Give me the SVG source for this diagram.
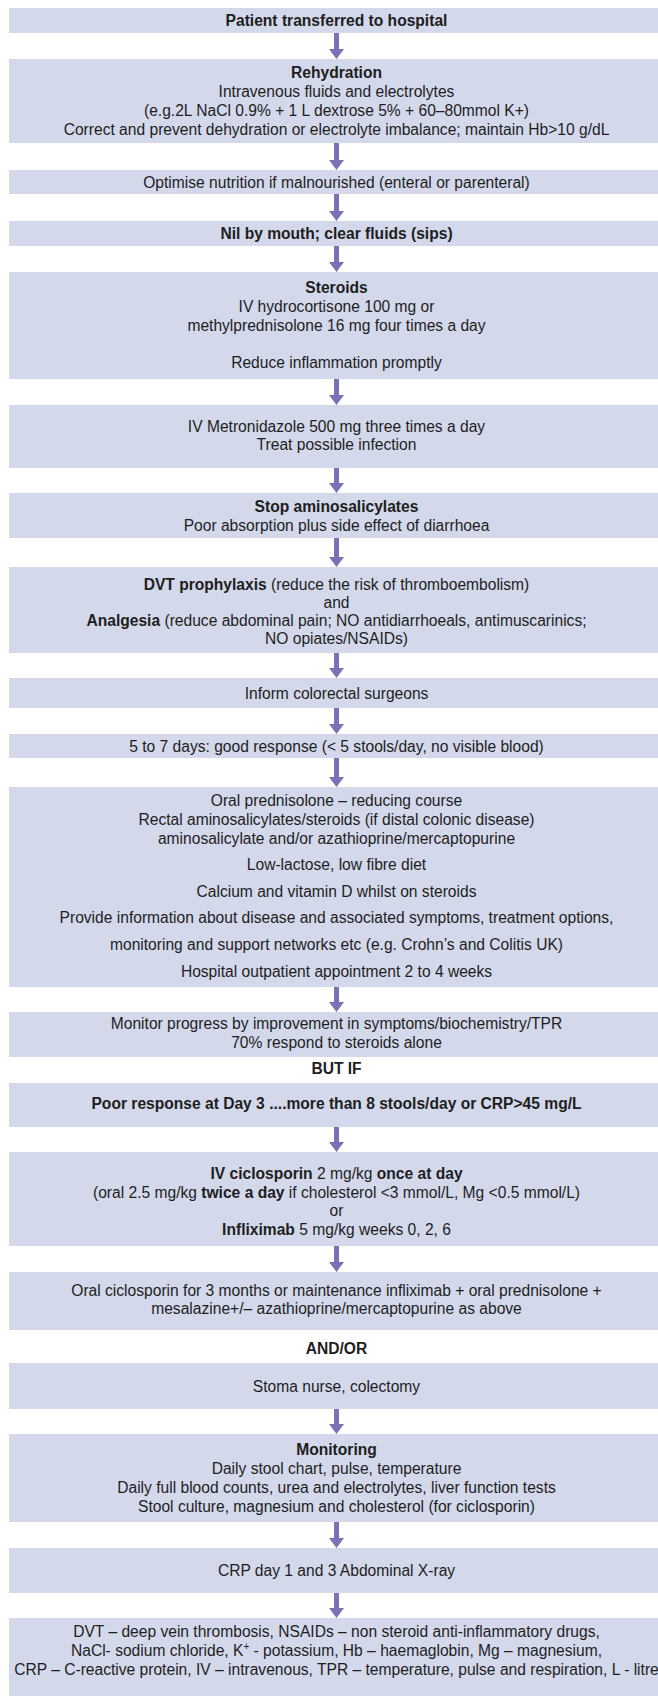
<svg xmlns="http://www.w3.org/2000/svg" width="658" height="1696" viewBox="0 0 658 1696">
<style>
.box{fill:#D3D8EB}
.t{font-family:"Liberation Sans",Arial,sans-serif;font-size:15.6px;text-anchor:middle;fill:#1e1e1e}
.b{font-weight:bold}
.arr{stroke:#7773B4;stroke-width:5;fill:none}
</style>
<defs>
<marker id="ah" markerUnits="userSpaceOnUse" markerWidth="10" markerHeight="15" viewBox="0 0 10 15" refX="0" refY="7.5" orient="auto">
<path d="M0,0 L10,7.5 L0,15 z" fill="#7773B4"/>
</marker>
</defs>
<rect width="658" height="1696" fill="#ffffff"/>
<g id="connectors">
<line class="arr" x1="336.5" y1="32" x2="336.5" y2="49" marker-end="url(#ah)"/>
<line class="arr" x1="336.5" y1="142" x2="336.5" y2="160" marker-end="url(#ah)"/>
<line class="arr" x1="336.5" y1="193" x2="336.5" y2="211" marker-end="url(#ah)"/>
<line class="arr" x1="336.5" y1="245" x2="336.5" y2="262" marker-end="url(#ah)"/>
<line class="arr" x1="336.5" y1="378" x2="336.5" y2="395" marker-end="url(#ah)"/>
<line class="arr" x1="336.5" y1="467" x2="336.5" y2="483" marker-end="url(#ah)"/>
<line class="arr" x1="336.5" y1="537" x2="336.5" y2="557" marker-end="url(#ah)"/>
<line class="arr" x1="336.5" y1="652" x2="336.5" y2="668" marker-end="url(#ah)"/>
<line class="arr" x1="336.5" y1="707" x2="336.5" y2="724" marker-end="url(#ah)"/>
<line class="arr" x1="336.5" y1="757" x2="336.5" y2="777" marker-end="url(#ah)"/>
<line class="arr" x1="336.5" y1="986" x2="336.5" y2="1002" marker-end="url(#ah)"/>
<line class="arr" x1="336.5" y1="1126" x2="336.5" y2="1142" marker-end="url(#ah)"/>
<line class="arr" x1="336.5" y1="1245" x2="336.5" y2="1262" marker-end="url(#ah)"/>
<line class="arr" x1="336.5" y1="1408" x2="336.5" y2="1424" marker-end="url(#ah)"/>
<line class="arr" x1="336.5" y1="1521" x2="336.5" y2="1538" marker-end="url(#ah)"/>
<line class="arr" x1="336.5" y1="1592" x2="336.5" y2="1608" marker-end="url(#ah)"/>
</g>
<g id="n1"><rect class="box" x="9" y="8" width="649" height="25"/>
<text class="t b" x="336.5" y="26">Patient transferred to hospital</text></g>
<g id="n2"><rect class="box" x="9" y="59" width="649" height="84"/>
<text class="t b" x="336.5" y="78">Rehydration</text>
<text class="t" x="336.5" y="97">Intravenous fluids and electrolytes</text>
<text class="t" x="336.5" y="116">(e.g.2L NaCl 0.9% + 1 L dextrose 5% + 60–80mmol K+)</text>
<text class="t" x="336.5" y="135">Correct and prevent dehydration or electrolyte imbalance; maintain Hb&gt;10 g/dL</text></g>
<g id="n3"><rect class="box" x="9" y="170" width="649" height="24"/>
<text class="t" x="336.5" y="187.5">Optimise nutrition if malnourished (enteral or parenteral)</text></g>
<g id="n4"><rect class="box" x="9" y="221" width="649" height="25"/>
<text class="t b" x="336.5" y="239">Nil by mouth; clear fluids (sips)</text></g>
<g id="n5"><rect class="box" x="9" y="272" width="649" height="107"/>
<text class="t b" x="336.5" y="293">Steroids</text>
<text class="t" x="336.5" y="312">IV hydrocortisone 100 mg or</text>
<text class="t" x="336.5" y="331">methylprednisolone 16 mg four times a day</text>
<text class="t" x="336.5" y="368">Reduce inflammation promptly</text></g>
<g id="n6"><rect class="box" x="9" y="405" width="649" height="63"/>
<text class="t" x="336.5" y="431.5">IV Metronidazole 500 mg three times a day</text>
<text class="t" x="336.5" y="450">Treat possible infection</text></g>
<g id="n7"><rect class="box" x="9" y="493" width="649" height="45"/>
<text class="t b" x="336.5" y="512">Stop aminosalicylates</text>
<text class="t" x="336.5" y="531">Poor absorption plus side effect of diarrhoea</text></g>
<g id="n8"><rect class="box" x="9" y="567" width="649" height="86"/>
<text class="t" x="336.5" y="590"><tspan class="b">DVT prophylaxis</tspan> (reduce the risk of thromboembolism)</text>
<text class="t" x="336.5" y="608">and</text>
<text class="t" x="336.5" y="626"><tspan class="b">Analgesia</tspan> (reduce abdominal pain; NO antidiarrhoeals, antimuscarinics;</text>
<text class="t" x="336.5" y="643.5">NO opiates/NSAIDs)</text></g>
<g id="n9"><rect class="box" x="9" y="678" width="649" height="30"/>
<text class="t" x="336.5" y="698.5">Inform colorectal surgeons</text></g>
<g id="n10"><rect class="box" x="9" y="734" width="649" height="24"/>
<text class="t" x="336.5" y="751.5">5 to 7 days: good response (&lt; 5 stools/day, no visible blood)</text></g>
<g id="n11"><rect class="box" x="9" y="787" width="649" height="200"/>
<text class="t" x="336.5" y="806">Oral prednisolone – reducing course</text>
<text class="t" x="336.5" y="825">Rectal aminosalicylates/steroids (if distal colonic disease)</text>
<text class="t" x="336.5" y="844">aminosalicylate and/or azathioprine/mercaptopurine</text>
<text class="t" x="336.5" y="870">Low-lactose, low fibre diet</text>
<text class="t" x="336.5" y="896.7">Calcium and vitamin D whilst on steroids</text>
<text class="t" x="336.5" y="923.3">Provide information about disease and associated symptoms, treatment options,</text>
<text class="t" x="336.5" y="950">monitoring and support networks etc (e.g. Crohn’s and Colitis UK)</text>
<text class="t" x="336.5" y="976.7">Hospital outpatient appointment 2 to 4 weeks</text></g>
<g id="n12"><rect class="box" x="9" y="1012" width="649" height="45"/>
<text class="t" x="336.5" y="1029">Monitor progress by improvement in symptoms/biochemistry/TPR</text>
<text class="t" x="336.5" y="1048">70% respond to steroids alone</text></g>
<g id="lbl-butif"><text class="t b" x="336.5" y="1073.5">BUT IF</text></g>
<g id="n13"><rect class="box" x="9" y="1083" width="649" height="44"/>
<text class="t b" x="336.5" y="1108.5">Poor response at Day 3 ....more than 8 stools/day or CRP&gt;45 mg/L</text></g>
<g id="n14"><rect class="box" x="9" y="1152" width="649" height="94"/>
<text class="t" x="336.5" y="1179"><tspan class="b">IV ciclosporin</tspan> 2 mg/kg <tspan class="b">once at day</tspan></text>
<text class="t" x="336.5" y="1197.5">(oral 2.5 mg/kg <tspan class="b">twice a day</tspan> if cholesterol &lt;3 mmol/L, Mg &lt;0.5 mmol/L)</text>
<text class="t" x="336.5" y="1216">or</text>
<text class="t" x="336.5" y="1234.5"><tspan class="b">Infliximab</tspan> 5 mg/kg weeks 0, 2, 6</text></g>
<g id="n15"><rect class="box" x="9" y="1272" width="649" height="58"/>
<text class="t" x="336.5" y="1296">Oral ciclosporin for 3 months or maintenance infliximab + oral prednisolone +</text>
<text class="t" x="336.5" y="1314">mesalazine+/– azathioprine/mercaptopurine as above</text></g>
<g id="lbl-andor"><text class="t b" x="336.5" y="1353.5">AND/OR</text></g>
<g id="n16"><rect class="box" x="9" y="1363" width="649" height="46"/>
<text class="t" x="336.5" y="1392">Stoma nurse, colectomy</text></g>
<g id="n17"><rect class="box" x="9" y="1434" width="649" height="88"/>
<text class="t b" x="336.5" y="1455">Monitoring</text>
<text class="t" x="336.5" y="1474">Daily stool chart, pulse, temperature</text>
<text class="t" x="336.5" y="1493">Daily full blood counts, urea and electrolytes, liver function tests</text>
<text class="t" x="336.5" y="1512">Stool culture, magnesium and cholesterol (for ciclosporin)</text></g>
<g id="n18"><rect class="box" x="9" y="1548" width="649" height="45"/>
<text class="t" x="336.5" y="1576">CRP day 1 and 3 Abdominal X-ray</text></g>
<g id="n19"><rect class="box" x="9" y="1618" width="649" height="78"/>
<text class="t" x="336.5" y="1637">DVT – deep vein thrombosis, NSAIDs – non steroid anti-inflammatory drugs,</text>
<text class="t" x="336.5" y="1656">NaCl- sodium chloride, K<tspan font-size="10" dy="-6">+</tspan><tspan dy="6"> - potassium, Hb – haemaglobin, Mg – magnesium,</tspan></text>
<text class="t" x="336.5" y="1675">CRP – C-reactive protein, IV – intravenous, TPR – temperature, pulse and respiration, L - litre</text></g>
</svg>
